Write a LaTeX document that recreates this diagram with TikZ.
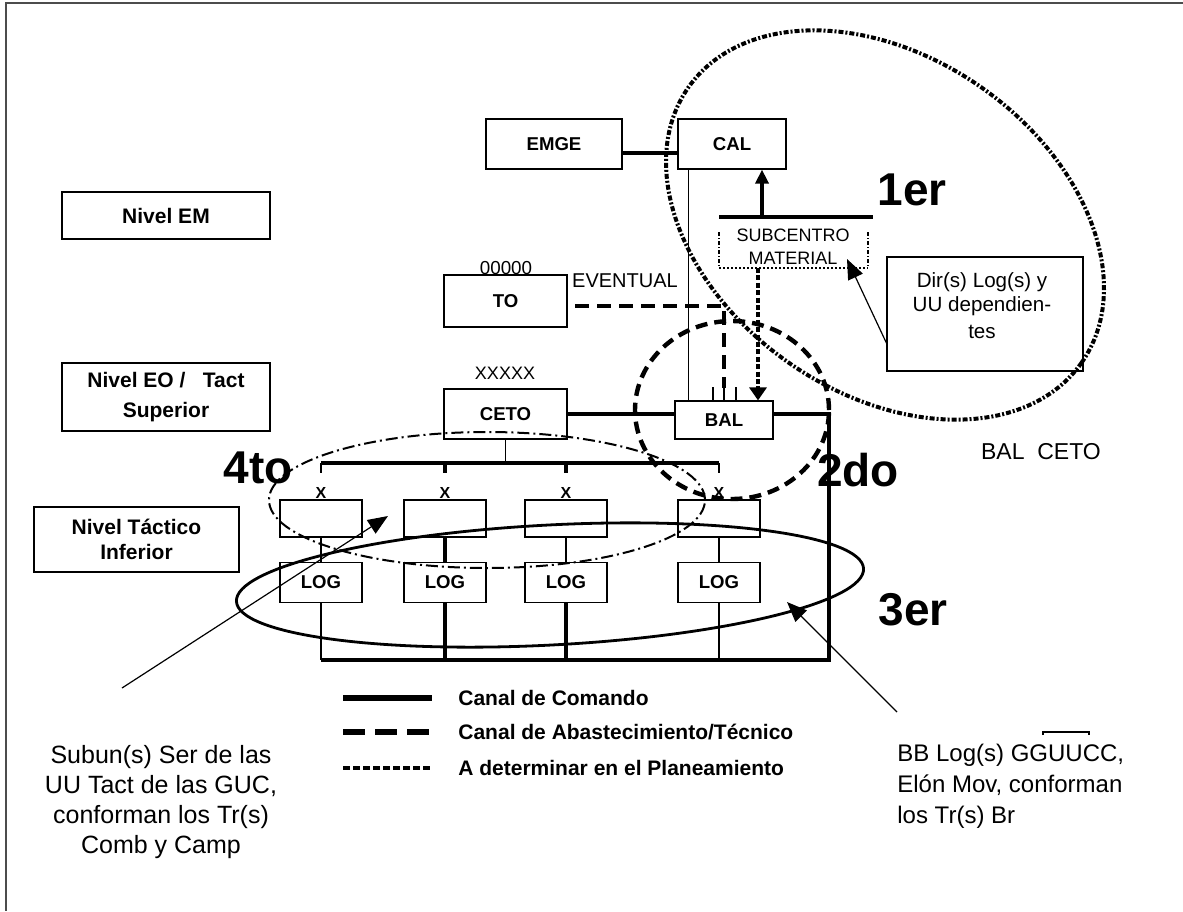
\documentclass[tikz,border=0pt]{standalone}
\usepackage{fontspec}
\setmainfont{Liberation Sans}
\usetikzlibrary{arrows.meta}

\begin{document}
\begin{tikzpicture}[
x=0.5pt, y=-0.5pt,
box/.style={draw, line width=0.6pt, inner sep=0pt, font=\bfseries\fontsize{9.3}{11}\selectfont},
nivel/.style={draw, line width=0.8pt, align=center, inner sep=0pt, minimum width=104pt, font=\bfseries\fontsize{10.5}{12.6}\selectfont},
unit/.style={draw, line width=0.6pt, minimum width=41pt, minimum height=18.5pt, inner sep=0pt},
logbox/.style={draw, line width=0.6pt, minimum width=41pt, minimum height=20pt, inner sep=0pt, font=\bfseries\fontsize{9.3}{11}\selectfont},
xlab/.style={font=\bfseries\fontsize{8}{9}\selectfont, inner sep=0pt, label distance=0.5pt},
big/.style={font=\bfseries\fontsize{23}{26}\selectfont},
legtxt/.style={anchor=west, inner sep=0pt, font=\bfseries\fontsize{10.5}{12}\selectfont},
cmd/.style={line width=2.4pt},
abast/.style={line width=2.4pt, dash pattern=on 7pt off 4pt},
plan/.style={line width=2pt, dash pattern=on 2.5pt off 1.2pt},
thinline/.style={line width=0.6pt},
pointer/.style={line width=0.6pt, -{Triangle[length=10pt,width=8pt]}}
]
\useasboundingbox (0,0) rectangle (1183,911);
\draw[line width=1pt, black!70] (1183,3) -- (6,3) -- (6,911);

% niveles
\node[nivel, minimum height=23.5pt] (nivem) at (166,215.5) {Nivel EM};
\node[nivel, minimum height=34pt] (niveo) at (166,397) {Nivel EO /\ \ \ Tact\\[2pt]Superior};
\node[nivel, minimum width=102.5pt, minimum height=32.5pt] (nivti) at (136.5,539.5) {Nivel Táctico\\Inferior};

% cajas superiores
\node[box, minimum width=68pt, minimum height=25pt] (emge) at (554,144) {EMGE};
\node[box, minimum width=54pt, minimum height=25pt] (cal) at (732,144) {CAL};
\node[box, minimum width=61.5pt, minimum height=26pt] (to) at (505.5,301) {TO};
\node[font=\fontsize{9.4}{11}\selectfont] (toid) at (506,268) {00000};
\node[font=\fontsize{10}{12}\selectfont] (eventual) at (625,281) {EVENTUAL};
\node[box, minimum width=61.5pt, minimum height=25pt] (ceto) at (505.5,414) {CETO};
\node[font=\fontsize{9}{11}\selectfont] (cetoid) at (505,373) {XXXXX};
\node[box, minimum width=49pt, minimum height=19pt] (bal) at (724,420) {BAL};

% subcentro
\node[align=center, font=\fontsize{9}{11.5}\selectfont] (sub) at (793,247) {SUBCENTRO\\MATERIAL};
\draw[line width=0.6pt, dash pattern=on 2pt off 1pt on 0.5pt off 1pt] (719,232) -- (719,268) (868,232) -- (868,268);
\draw[line width=1pt, dash pattern=on 1pt off 1pt] (719,268) -- (868,268);
\coordinate (subtop) at (762,217);
\coordinate (subbot) at (758,268);
\draw[cmd] (719,217) -- (873,217);
\draw[cmd, -{Triangle[length=7pt,width=6.5pt]}] (subtop) -- (subtop |- cal.south);
\draw[plan, -{Triangle[length=6.5pt,width=8.5pt]}] (subbot) -- (subbot |- bal.north);

\node[draw, line width=0.6pt, minimum width=98pt, minimum height=57pt] (dir) at (985,314) {};
\node[align=center, inner sep=0pt, font=\fontsize{10.3}{12}\selectfont] (dirtxt) at (982,306) {Dir(s) Log(s) y\\UU dependien-\\[1.5pt]tes};
\coordinate (subtip) at (847,259);
\draw[pointer] ([yshift=-14.5pt]dir.west) -- (subtip);

% canales
\draw[cmd] ([yshift=-4.5pt]emge.east) -- ([yshift=-4.5pt]cal.west);
\draw[thinline] ([xshift=5.5pt]cal.south west) -- ([xshift=5.5pt]cal.south west |- bal.north);
\coordinate (tostart) at (575,306);
\coordinate (turn) at (724,306);
\coordinate (balticks) at (724,388);
\draw[abast] (tostart) -- (turn) -- (balticks);
\draw[thinline] ([xshift=-5.5pt]bal.north) -- ++(0,-13);
\draw[thinline] (bal.north) -- ++(0,-13);
\draw[thinline] ([xshift=6pt]bal.north) -- ++(0,-13);
\draw[cmd] (ceto.east) -- (ceto.east -| bal.west);
\coordinate (rc) at (829,414);
\coordinate (bbr) at (829,660);
\coordinate (bbl) at (321,660);
\draw[cmd] (bal.east |- rc) -- (rc) -- (bbr) -- (bbl);

% nivel tactico inferior
\coordinate (busl) at (321,463);
\coordinate (busr) at (719,463);
\draw[thinline] (ceto.south) -- (ceto.south |- busl);
\draw[cmd] (busl) -- (busr);
\node[unit, label={[xlab]above:X}] (u1) at (321,518.5) {};
\node[unit, label={[xlab]above:X}] (u2) at (445,518.5) {};
\node[unit, label={[xlab]above:X}] (u3) at (566,518.5) {};
\node[unit, label={[xlab]above:X}] (u4) at (719,518.5) {};
\node[logbox] (l1) at (321,582.5) {LOG};
\node[logbox] (l2) at (445,582.5) {LOG};
\node[logbox] (l3) at (566,582.5) {LOG};
\node[logbox] (l4) at (719,582.5) {LOG};
\draw[thinline] (u1.north |- busl) -- ++(0,10);
\draw[cmd] (u2.north |- busl) -- ++(0,10);
\draw[cmd] (u3.north |- busl) -- ++(0,10);
\draw[thinline] (u4.north |- busl) -- ++(0,10);
\draw[thinline] (u1) -- (l1);
\draw[cmd] (u2) -- (l2);
\draw[thinline] (u3) -- (l3);
\draw[thinline] (u4) -- (l4);
\draw[thinline] (l1) -- (l1 |- bbl);
\draw[cmd] (l2) -- (l2 |- bbl);
\draw[cmd] (l3) -- (l3 |- bbl);
\draw[thinline] (l4) -- (l4 |- bbl);

% anillos
\draw[line width=2pt, dash pattern=on 2.5pt off 1pt on 1pt off 1pt, rotate around={-35:(885,225)}] (885,225) ellipse [x radius=120pt, y radius=84pt];
\draw[line width=2.2pt, dash pattern=on 6pt off 3.5pt] (732,410) ellipse [x radius=48.5pt, y radius=44.5pt];
\draw[line width=1pt, dash pattern=on 6pt off 2pt on 1pt off 2pt] (487,500) ellipse [x radius=109pt, y radius=34pt];
\draw[line width=1.4pt, rotate around={3:(550,585)}] (550,585) ellipse [x radius=157pt, y radius=30pt];
\node[big] (l1er) at (912,190) {1er};
\node[big] (l2do) at (858,470) {2do};
\node[big] (l4to) at (258,468) {4to};
\node[big] (l3er) at (913,610) {3er};
\node[font=\fontsize{11.5}{14}\selectfont] (balceto) at (1041,452) {BAL\ \ CETO};

% referencias
\coordinate (lgA) at (343,698); \coordinate (lgB) at (432,698);
\coordinate (lgC) at (343,732); \coordinate (lgD) at (432,732);
\coordinate (lgE) at (343,768); \coordinate (lgF) at (432,768);
\draw[line width=2.6pt] (lgA) -- (lgB);
\draw[line width=2.6pt, dash pattern=on 11pt off 5pt] (lgC) -- (lgD);
\draw[line width=2pt, dash pattern=on 3.5pt off 1.5pt] (lgE) -- (lgF);
\node[legtxt] (legcmd) at (458,698) {Canal de Comando};
\node[legtxt] (legabs) at (458,732) {Canal de Abastecimiento/Técnico};
\node[legtxt] (legplan) at (458,768) {A determinar en el Planeamiento};

% textos inferiores
\node[align=center, inner sep=0pt, font=\fontsize{12.5}{15}\selectfont] (subun) at (161,802) {Subun(s) Ser de las\\UU Tact de las GUC,\\conforman los Tr(s)\\Comb y Camp};
\node[align=left, anchor=west, inner sep=0pt, font=\fontsize{12}{15.5}\selectfont] (bblog) at (897,786) {BB Log(s) GGUUCC,\\Elón Mov, conforman\\los Tr(s) Br};
\draw[line width=0.6pt] (1043,735) -- (1043,732) -- (1089,732) -- (1089,735);
\coordinate (lptrA) at (122,688); \coordinate (lptrB) at (388,516);
\coordinate (rptrA) at (897,712); \coordinate (rptrB) at (787,602);
\draw[pointer] (lptrA) -- (lptrB);
\draw[pointer] (rptrA) -- (rptrB);
\end{tikzpicture}
\end{document}
